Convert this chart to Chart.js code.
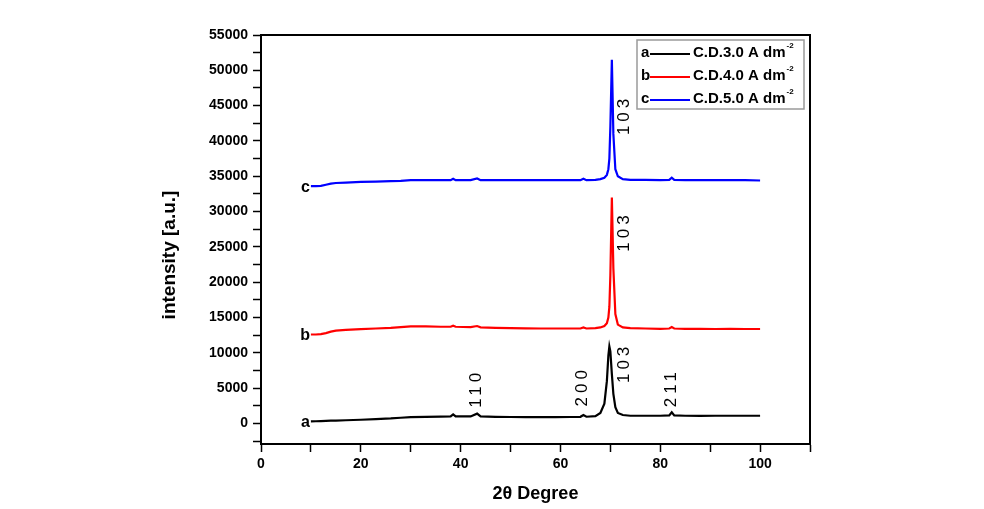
<!DOCTYPE html>
<html>
<head>
<meta charset="utf-8">
<script src="https://cdn.jsdelivr.net/npm/chart.js@4"></script>
<style>
  html, body { margin: 0; padding: 0; background: #fff; }
  #wrap { width: 984px; height: 509px; }
</style>
</head>
<body>
<div id="wrap"><canvas id="myChart"></canvas></div>
<script>
// 2-theta positions (degrees)
var twoTheta = [10, 11, 12, 13, 14, 15, 17, 20, 23, 26, 28, 30, 33, 36, 38, 38.5, 39, 42, 43.3, 44,
  47, 50, 53, 56, 59, 62, 64, 64.6, 65.2, 67, 68, 68.8, 69.3, 69.6, 69.8, 70.0, 70.3, 70.6, 71.0,
  71.5, 72.5, 74, 77, 80, 81.8, 82.3, 82.8, 85, 88, 91, 94, 97, 100];

// a : C.D. 3.0 A dm-2
var seriesA = [300, 320, 350, 380, 400, 420, 460, 530, 620, 720, 820, 900, 950, 980, 1000, 1300, 1000, 1000, 1400, 1000,
  950, 920, 900, 900, 900, 920, 950, 1200, 960, 1050, 1500, 2800, 6000, 9600, 10900, 10200, 7000, 4200, 2300,
  1500, 1200, 1100, 1100, 1100, 1150, 1600, 1150, 1100, 1080, 1100, 1100, 1100, 1100];

// b : C.D. 4.0 A dm-2
var seriesB = [12600, 12600, 12650, 12800, 13000, 13150, 13250, 13350, 13450, 13550, 13650, 13750, 13750, 13700, 13700, 13850, 13700, 13650, 13800, 13620,
  13550, 13500, 13480, 13450, 13450, 13450, 13450, 13600, 13450, 13500, 13600, 13800, 14200, 15000, 16500, 21000, 32000, 22000, 15500,
  14000, 13600, 13500, 13450, 13400, 13450, 13650, 13450, 13400, 13400, 13380, 13400, 13380, 13380];

// c : C.D. 5.0 A dm-2
var seriesC = [33600, 33600, 33650, 33800, 33950, 34050, 34100, 34200, 34250, 34300, 34350, 34450, 34450, 34450, 34450, 34650, 34450, 34450, 34700, 34450,
  34450, 34450, 34450, 34450, 34450, 34450, 34450, 34650, 34450, 34500, 34600, 34800, 35200, 36000, 37500, 42000, 51500, 41000, 36000,
  35000, 34600, 34500, 34500, 34450, 34500, 34800, 34500, 34450, 34450, 34450, 34450, 34450, 34400];

var seriesNames = ["a", "b", "c"];
var legendText = ["C.D.3.0 A dm", "C.D.4.0 A dm", "C.D.5.0 A dm"];
var seriesColors = ["#000000", "#ff0000", "#0000ff"];

// y axis ticks: labelled ones and minor ones in between
var yTickLabels = [0, 5000, 10000, 15000, 20000, 25000, 30000, 35000, 40000, 45000, 50000, 55000];
var yMinorTicks = [-2500, 2500, 7500, 12500, 17500, 22500, 27500, 32500, 37500, 42500, 47500, 52500];
var xTickLabels = [0, 20, 40, 60, 80, 100];
var xMinorTicks = [10, 30, 50, 70, 90, 110];

// peak (hkl) labels, placed in data units
var peakText = ["110", "200", "103", "211", "103", "103"];
var peakX = [43.1, 64.4, 72.8, 82.2, 72.8, 72.8];
var peakY = [4700, 5000, 8300, 4800, 26900, 43400];

var FONT = "'Liberation Sans', Arial, sans-serif";

function toPoints(ys) {
  return twoTheta.map(function (x, i) { return { x: x, y: ys[i] }; });
}

function tickList(major, minor) {
  return major.concat(minor).sort(function (p, q) { return p - q; })
    .map(function (v) { return { value: v }; });
}

var extras = {
  id: 'extras',
  afterDatasetsDraw: function (chart) {
    var ctx = chart.ctx;
    var xs = chart.scales.x, ys = chart.scales.y;
    var area = chart.chartArea;
    ctx.save();

    // top and right frame
    ctx.strokeStyle = '#000';
    ctx.lineWidth = 2;
    ctx.beginPath();
    ctx.moveTo(area.left, area.top);
    ctx.lineTo(area.right, area.top);
    ctx.lineTo(area.right, area.bottom);
    ctx.stroke();

    // y axis title (sits a bit below the axis middle in the original)
    ctx.fillStyle = '#000';
    ctx.save();
    ctx.translate(170, 255);
    ctx.rotate(-Math.PI / 2);
    ctx.font = 'bold 19px ' + FONT;
    ctx.textAlign = 'center';
    ctx.textBaseline = 'middle';
    ctx.fillText('intensity [a.u.]', 0, 0);
    ctx.restore();

    // a / b / c next to the start of each curve
    ctx.font = 'bold 16px ' + FONT;
    ctx.textAlign = 'right';
    ctx.textBaseline = 'middle';
    chart.data.datasets.forEach(function (ds, i) {
      var p = ds.data[0];
      ctx.fillText(seriesNames[i], xs.getPixelForValue(p.x) - 1, ys.getPixelForValue(p.y) + 1);
    });

    // peak labels, rotated
    ctx.font = '17px ' + FONT;
    ctx.textAlign = 'center';
    ctx.textBaseline = 'middle';
    if ('letterSpacing' in ctx) ctx.letterSpacing = '4px';
    for (var k = 0; k < peakText.length; k++) {
      ctx.save();
      ctx.translate(xs.getPixelForValue(peakX[k]), ys.getPixelForValue(peakY[k]));
      ctx.rotate(-Math.PI / 2);
      ctx.fillText(peakText[k], 2, 0);
      ctx.restore();
    }
    if ('letterSpacing' in ctx) ctx.letterSpacing = '0px';

    // legend box
    var bx = 637, by = 40, bw = 167, bh = 69;
    ctx.strokeStyle = '#9a9a9a';
    ctx.lineWidth = 1.5;
    ctx.strokeRect(bx, by, bw, bh);
    for (var j = 0; j < 3; j++) {
      var ry = by + 13 + j * 23;
      ctx.fillStyle = '#000';
      ctx.font = 'bold 15px ' + FONT;
      ctx.textAlign = 'left';
      ctx.textBaseline = 'middle';
      ctx.fillText(seriesNames[j], bx + 4, ry);
      ctx.strokeStyle = seriesColors[j];
      ctx.lineWidth = 2;
      ctx.beginPath();
      ctx.moveTo(bx + 13, ry + 1);
      ctx.lineTo(bx + 53, ry + 1);
      ctx.stroke();
      ctx.fillText(legendText[j], bx + 56, ry);
      var w = ctx.measureText(legendText[j]).width;
      ctx.font = 'bold 8px ' + FONT;
      ctx.fillText('-2', bx + 56 + w + 1, ry - 7);
    }
    ctx.restore();
  }
};

var ctx = document.getElementById('myChart').getContext('2d');

var chart = new Chart(ctx, {
  type: 'line',
  data: {
    datasets: [
      { label: legendText[0], data: toPoints(seriesA), borderColor: seriesColors[0] },
      { label: legendText[1], data: toPoints(seriesB), borderColor: seriesColors[1] },
      { label: legendText[2], data: toPoints(seriesC), borderColor: seriesColors[2] }
    ]
  },
  options: {
    responsive: true,
    maintainAspectRatio: false,
    animation: false,
    layout: { padding: { left: 155, right: 174, top: 35, bottom: 0 } },
    elements: {
      point: { radius: 0 },
      line: { borderWidth: 2.2, tension: 0 }
    },
    plugins: {
      legend: { display: false },
      tooltip: { enabled: false }
    },
    scales: {
      x: {
        type: 'linear',
        min: 0,
        max: 110,
        afterFit: function (s) { s.height = 65; },
        afterBuildTicks: function (s) { s.ticks = tickList(xTickLabels, xMinorTicks); },
        border: { color: '#000', width: 2 },
        grid: { drawOnChartArea: false, drawTicks: true, tickLength: 8, tickColor: '#000', tickWidth: 1.5 },
        ticks: {
          autoSkip: false,
          maxRotation: 0,
          padding: 4,
          color: '#000',
          font: { family: FONT, size: 14, weight: 'bold' },
          callback: function (v) { return xTickLabels.indexOf(v) >= 0 ? v : ''; }
        },
        title: {
          display: true,
          text: '2θ Degree',
          color: '#000',
          font: { family: FONT, size: 18, weight: 'bold' }
        }
      },
      y: {
        type: 'linear',
        min: -2900,
        max: 55000,
        afterFit: function (s) { s.width = 106; },
        afterBuildTicks: function (s) { s.ticks = tickList(yTickLabels, yMinorTicks); },
        border: { color: '#000', width: 2 },
        grid: { drawOnChartArea: false, drawTicks: true, tickLength: 8, tickColor: '#000', tickWidth: 1.5 },
        ticks: {
          autoSkip: false,
          padding: 5,
          color: '#000',
          font: { family: FONT, size: 14, weight: 'bold' },
          callback: function (v) { return yTickLabels.indexOf(v) >= 0 ? v : ''; }
        },
        title: { display: false }
      }
    }
  },
  plugins: [extras]
});
</script>
</body>
</html>
